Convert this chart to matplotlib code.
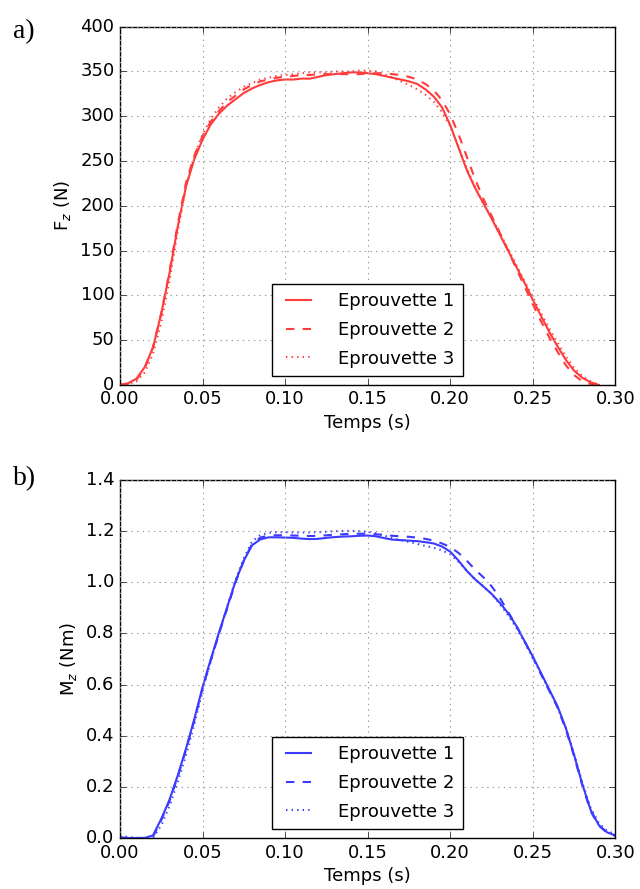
import numpy as np
import matplotlib
matplotlib.use("Agg")
import matplotlib.pyplot as plt

plt.style.use("classic")
plt.rcParams["figure.facecolor"] = "white"
plt.rcParams["savefig.facecolor"] = "white"
plt.rcParams["font.family"] = ["DejaVu Sans"]
plt.rcParams["mathtext.fontset"] = "dejavusans"
plt.rcParams["font.size"] = 13

# time grids (s)
t_fz = np.round(np.arange(0, 0.2901, 0.005), 3)
t_mz = np.round(np.arange(0, 0.3001, 0.005), 3)

labels = ["Eprouvette 1", "Eprouvette 2", "Eprouvette 3"]
styles = ["-", "--", ":"]

# a) Fz (N)
fz1 = [0, 2, 7, 20, 42, 80, 125, 177, 222, 252, 274, 291, 303, 312, 319, 326, 331, 335, 338, 340,
       341, 341, 342, 342, 344, 346, 347, 348, 349, 349, 348, 347, 345, 343, 341, 339, 336, 330, 322, 310,
       290, 265, 240, 220, 203, 186, 168, 150, 132, 114, 95, 77, 59, 43, 28, 16, 8, 3, 0]
fz2 = [0, 1, 6, 19, 42, 80, 127, 180, 226, 256, 278, 294, 306, 316, 323, 330, 335, 339, 341, 343,
       344, 345, 346, 346, 347, 347, 347, 347, 347, 347, 348, 348, 348, 347, 346, 344, 341, 336, 329, 318,
       302, 280, 255, 230, 208, 189, 170, 150, 130, 110, 90, 71, 53, 37, 22, 11, 4, 1, 0]
fz3 = [0, 1, 4, 14, 35, 70, 117, 172, 222, 256, 280, 297, 310, 320, 327, 333, 337, 341, 343, 345,
       346, 347, 348, 349, 349, 349, 350, 350, 350, 351, 351, 350, 347, 343, 339, 335, 330, 324, 316, 305,
       289, 266, 242, 221, 203, 187, 170, 152, 134, 116, 98, 80, 63, 47, 32, 19, 10, 4, 0]

# b) Mz (Nm)
mz1 = [0.003, 0.0, 0.0, 0.0, 0.01, 0.075, 0.15, 0.245, 0.35, 0.465, 0.59, 0.70, 0.805, 0.905, 1.005,
       1.085, 1.145, 1.168, 1.176, 1.176, 1.175, 1.174, 1.171, 1.169, 1.170, 1.174, 1.177, 1.179, 1.18,
       1.182, 1.183, 1.18, 1.173, 1.167, 1.165, 1.163, 1.161, 1.157, 1.152, 1.14, 1.12, 1.085, 1.045,
       1.012, 0.984, 0.955, 0.92, 0.88, 0.83, 0.77, 0.71, 0.645, 0.58, 0.515, 0.43, 0.325, 0.21, 0.11,
       0.05, 0.022, 0.01]
mz2 = [0.0, 0.0, 0.0, 0.0, 0.005, 0.07, 0.145, 0.24, 0.345, 0.46, 0.585, 0.695, 0.80, 0.90, 1.0,
       1.085, 1.15, 1.175, 1.183, 1.184, 1.184, 1.183, 1.182, 1.181, 1.182, 1.184, 1.186, 1.188, 1.19,
       1.19, 1.19, 1.188, 1.185, 1.182, 1.18, 1.178, 1.175, 1.17, 1.163, 1.152, 1.138, 1.115, 1.085,
       1.05, 1.02, 0.985, 0.94, 0.885, 0.83, 0.77, 0.705, 0.64, 0.575, 0.51, 0.425, 0.32, 0.205, 0.105,
       0.048, 0.02, 0.008]
mz3 = [0.006, 0.004, 0.0, 0.0, 0.0, 0.05, 0.125, 0.22, 0.325, 0.445, 0.575, 0.69, 0.80, 0.905, 1.01,
       1.095, 1.16, 1.185, 1.194, 1.196, 1.196, 1.195, 1.195, 1.195, 1.196, 1.198, 1.2, 1.201, 1.201,
       1.2, 1.198, 1.192, 1.183, 1.172, 1.165, 1.158, 1.15, 1.142, 1.135, 1.125, 1.11, 1.08, 1.045,
       1.012, 0.984, 0.955, 0.915, 0.872, 0.822, 0.765, 0.705, 0.642, 0.578, 0.512, 0.43, 0.328, 0.215,
       0.118, 0.058, 0.028, 0.014]

fig = plt.figure(figsize=(6.4, 8.89), dpi=100)
ax1 = fig.add_axes([0.1875, 0.567, 0.774, 0.403])
ax2 = fig.add_axes([0.1875, 0.0574, 0.774, 0.4026])

red = "#ff3b3b"
blue = "#3b3bff"

for ys, ls, lab in zip([fz1, fz2, fz3], styles, labels):
    ax1.plot(t_fz, ys, ls, color=red, lw=1.5, label=lab)
for ys, ls, lab in zip([mz1, mz2, mz3], styles, labels):
    ax2.plot(t_mz, ys, ls, color=blue, lw=1.5, label=lab)

ax1.set_xlim(0, 0.30)
ax1.set_ylim(0, 400)
ax1.set_xticks(np.arange(0, 0.301, 0.05))
ax1.set_yticks(np.arange(0, 401, 50))
ax1.set_ylabel("F$_z$ (N)")

ax2.set_xlim(0, 0.30)
ax2.set_ylim(0, 1.4)
ax2.set_xticks(np.arange(0, 0.301, 0.05))
ax2.set_yticks(np.arange(0, 1.41, 0.2))
ax2.set_ylabel("M$_z$ (Nm)")

for ax in (ax1, ax2):
    ax.set_xlabel("Temps (s)", labelpad=4)
    ax.xaxis.set_major_formatter(matplotlib.ticker.FormatStrFormatter("%.2f"))
    ax.grid(True, color="#999999", linestyle=":", linewidth=0.8)
    ax.tick_params(labelsize=13, direction="in")
    ax.legend(loc="lower center", fontsize=13, frameon=True, fancybox=False,
              handlelength=2.0, borderpad=0.45, labelspacing=0.6, handletextpad=1.2,
              bbox_to_anchor=(0.5, 0.0))

ax2.yaxis.set_major_formatter(matplotlib.ticker.FormatStrFormatter("%.1f"))

fig.text(0.02, 0.965, "a)", family="Liberation Serif", fontsize=20, va="center")
fig.text(0.02, 0.462, "b)", family="Liberation Serif", fontsize=20, va="center")

fig.savefig("out.png", dpi=100)
